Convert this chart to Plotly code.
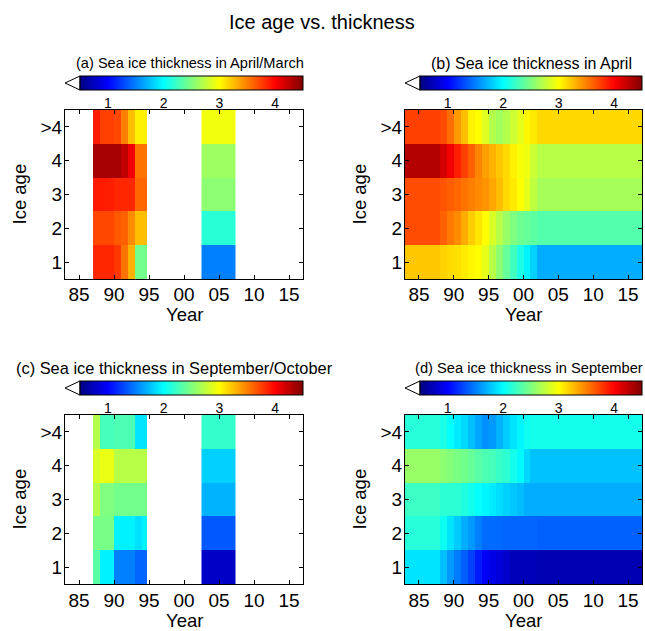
import plotly.graph_objects as go

# ---------------- data ----------------
ice_age = [1, 2, 3, 4, 5]
ice_age_labels = ["1", "2", "3", "4", ">4"]
year_ticks = [1985, 1990, 1995, 2000, 2005, 2010, 2015]
year_tick_labels = ["85", "90", "95", "00", "05", "10", "15"]
cbar_ticks = [1, 2, 3, 4]

# observations: submarine (1987-1994) and ICESat (2003-2007) blocks, cell edges in years
sub_edges = [1987, 1988, 1989, 1990, 1991, 1992, 1993, 1994, 1994.7]
icesat_edges = [2002.5, 2007.3]

# (a) April/March observations; rows = ice age 1,2,3,4,>4
obs_spring_sub = [
    [3.85, 3.85, 3.85, 3.78, 3.55, 3.30, 2.45, 2.45],
    [3.72, 3.72, 3.72, 3.65, 3.62, 3.45, 3.25, 3.25],
    [3.90, 3.90, 3.88, 3.85, 3.85, 3.85, 3.60, 3.60],
    [4.35, 4.35, 4.35, 4.35, 4.25, 4.05, 3.55, 3.55],
    [3.90, 3.75, 3.75, 3.72, 3.50, 3.25, 3.05, 3.05],
]
obs_spring_icesat = [[1.50], [2.16], [2.55], [2.62], [2.95]]

# (c) September/October observations
obs_fall_sub = [
    [2.35, 1.95, 1.95, 1.50, 1.50, 1.50, 1.40, 1.40],
    [2.47, 2.47, 2.47, 1.95, 1.95, 1.95, 1.88, 1.95],
    [2.70, 2.50, 2.50, 2.45, 2.45, 2.45, 2.45, 2.45],
    [2.85, 2.92, 2.92, 2.72, 2.72, 2.72, 2.72, 2.72],
    [2.70, 2.27, 2.27, 2.30, 2.30, 2.30, 1.90, 1.90],
]
obs_fall_icesat = [[0.78], [1.35], [1.70], [1.82], [2.20]]

# model years 1983-2016 (cell edges 1983..2017)
model_edges = list(range(1983, 2018))

# (b) April model
model_april = [
    [3.22] * 5 + [3.17, 3.14, 3.12, 3.08, 3.03, 3.00, 2.90, 2.72, 2.55, 2.40, 2.25, 2.10, 1.95, 1.82] + [1.68] * 15,
    [3.70] * 5 + [3.62, 3.53, 3.45, 3.33, 3.20, 3.10, 3.00, 2.85, 2.72, 2.60, 2.50, 2.43, 2.40, 2.37] + [2.33] * 15,
    [3.70] * 5 + [3.67, 3.63, 3.60, 3.55, 3.50, 3.46, 3.42, 3.35, 3.25, 3.15, 3.08, 3.00, 2.90, 2.75] + [2.65] * 15,
    [4.30] * 5 + [4.17, 4.05, 3.88, 3.75, 3.62, 3.48, 3.38, 3.30, 3.22, 3.15, 3.05, 2.97, 2.94, 2.80] + [2.72] * 15,
    [3.75] * 5 + [3.70, 3.57, 3.40, 3.25, 3.05, 3.00, 2.87, 2.70, 2.63, 2.70, 2.80, 2.90, 3.03, 3.08] + [3.15] * 15,
]

# (d) September model
model_sept = [
    [1.90] * 5 + [1.75, 1.60, 1.48, 1.37, 1.25, 1.10, 0.97, 0.90, 0.85, 0.80, 0.72, 0.72, 0.72, 0.72] + [0.70] * 15,
    [2.15] * 5 + [2.05, 1.90, 1.80, 1.68, 1.60, 1.50, 1.42, 1.42, 1.41, 1.40, 1.40, 1.40, 1.40, 1.40] + [1.38] * 15,
    [2.23] * 5 + [2.17, 2.17, 2.17, 2.12, 2.07, 2.02, 1.97, 1.92, 1.87, 1.82, 1.78, 1.74, 1.68, 1.68] + [1.68] * 15,
    [2.60] * 5 + [2.55, 2.52, 2.48, 2.45, 2.40, 2.35, 2.30, 2.27, 2.22, 2.18, 2.08, 1.98, 1.85, 1.76] + [1.76] * 15,
    [2.15] * 5 + [2.10, 2.02, 1.92, 1.85, 1.75, 1.65, 1.57, 1.60, 1.70, 1.80, 1.90, 1.97, 2.05, 2.08] + [2.08] * 15,
]

panel_titles = [
    "(a) Sea ice thickness in April/March",
    "(b) Sea ice thickness in April",
    "(c) Sea ice thickness in September/October",
    "(d) Sea ice thickness in September",
]
main_title = "Ice age vs. thickness"
x_title = "Year"
y_title = "Ice age"

# ---------------- layout helpers ----------------
W, H = 645, 631
FONT = "Liberation Sans, Arial, Helvetica, sans-serif"

def px(x):
    return x / W

def py(y):
    return 1 - y / H

jet = [
    [0.0, "rgb(0,0,128)"],
    [0.125, "rgb(0,0,255)"],
    [0.375, "rgb(0,255,255)"],
    [0.625, "rgb(255,255,0)"],
    [0.875, "rgb(255,0,0)"],
    [1.0, "rgb(128,0,0)"],
]

# plot boxes (left, right, top, bottom) in pixels
boxes = [
    (65, 303, 110, 279),
    (405, 642, 110, 279),
    (65, 303, 415, 584),
    (405, 642, 415, 584),
]
cbar_tops = [76, 76, 381, 381]
title_pos = [(190, 63), (531, 63), (174, 368), (529, 368)]
title_sizes = [14.6, 16, 16.4, 14.7]
xlabel_standoff = [-2, -2, -1, -1]
xtitle_y = [314, 314, 620, 620]
ytitle_x = [19, 359, 19, 359]

fig = go.Figure()

panels = [
    [(sub_edges, obs_spring_sub), (icesat_edges, obs_spring_icesat)],
    [(model_edges, model_april)],
    [(sub_edges, obs_fall_sub), (icesat_edges, obs_fall_icesat)],
    [(model_edges, model_sept)],
]

layout = dict(
    width=W, height=H,
    margin=dict(l=0, r=0, t=0, b=0, autoexpand=False),
    paper_bgcolor="white", plot_bgcolor="white",
    font=dict(family=FONT, color="black"),
    showlegend=False,
    annotations=[], shapes=[],
)

for i, traces in enumerate(panels):
    n = "" if i == 0 else str(i + 1)
    ca = "coloraxis" + n
    for edges, z in traces:
        fig.add_trace(go.Heatmap(
            x=edges, y=ice_age, z=z, coloraxis=ca,
            xaxis="x" + n, yaxis="y" + n, zsmooth=False, hoverongaps=False,
        ))
    l, r, t, b = boxes[i]
    layout["xaxis" + n] = dict(
        domain=[px(l), px(r)], anchor="y" + n, range=[1983, 2017],
        tickvals=year_ticks, ticktext=year_tick_labels,
        ticks="inside", ticklen=4, tickcolor="black", mirror="ticks",
        showline=True, linecolor="black", linewidth=1, showgrid=False, zeroline=False,
        tickfont=dict(size=19), ticklabelstandoff=xlabel_standoff[i],
    )
    layout["yaxis" + n] = dict(
        domain=[py(b), py(t)], anchor="x" + n, range=[0.5, 5.5],
        tickvals=ice_age, ticktext=ice_age_labels,
        ticks="inside", ticklen=4, tickcolor="black", mirror="ticks",
        showline=True, linecolor="black", linewidth=1, showgrid=False, zeroline=False,
        tickfont=dict(size=19), ticklabelstandoff=-2,
    )
    bl = l + 15
    layout[ca] = dict(
        cmin=0.5, cmax=4.5, colorscale=jet,
        colorbar=dict(
            orientation="h", x=px((bl + r) / 2), xanchor="center",
            y=py(cbar_tops[i]), yanchor="top", len=r - bl, lenmode="pixels",
            thickness=14, thicknessmode="pixels", xpad=0, ypad=0,
            outlinewidth=1, outlinecolor="black",
            tickvals=cbar_ticks, ticks="", tickfont=dict(size=14),
        ),
    )
    ct = cbar_tops[i]
    layout["shapes"].append(dict(
        type="path", xref="paper", yref="paper",
        path=f"M {px(l)},{py(ct + 7)} L {px(bl)},{py(ct)} L {px(bl)},{py(ct + 14)} Z",
        fillcolor="white", line=dict(color="black", width=1),
    ))
    tx, ty = title_pos[i]
    layout["annotations"].append(dict(
        text=panel_titles[i], x=px(tx), y=py(ty), xref="paper", yref="paper",
        showarrow=False, xanchor="center", yanchor="middle", font=dict(size=title_sizes[i]),
    ))
    layout["annotations"].append(dict(
        text=x_title, x=px((l + r) / 2), y=py(xtitle_y[i]), xref="paper", yref="paper",
        showarrow=False, xanchor="center", yanchor="middle", font=dict(size=18.5),
    ))
    layout["annotations"].append(dict(
        text=y_title, x=px(ytitle_x[i]), y=py((t + b) / 2), xref="paper", yref="paper",
        showarrow=False, xanchor="center", yanchor="middle", textangle=-90,
        font=dict(size=18.5),
    ))

layout["annotations"].append(dict(
    text=main_title, x=px(322), y=py(22), xref="paper", yref="paper",
    showarrow=False, xanchor="center", yanchor="middle", font=dict(size=20),
))

fig.update_layout(**layout)
fig.write_html(
    "out.html",
    config={"displayModeBar": False},
    post_script="document.body.style.margin='0';document.body.style.padding='0';",
)
